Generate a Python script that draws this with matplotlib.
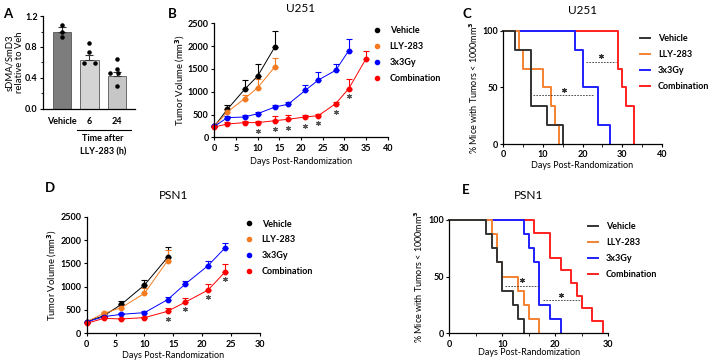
import matplotlib
matplotlib.use('Agg')
import matplotlib.pyplot as plt
from matplotlib.lines import Line2D
import numpy as np

plt.rcParams['font.family'] = ['Lato', 'DejaVu Sans']
plt.rcParams['font.weight'] = 'bold'
plt.rcParams['font.size'] = 6.5
plt.rcParams['axes.linewidth'] = 0.9
plt.rcParams['xtick.major.size'] = 2.5
plt.rcParams['ytick.major.size'] = 2.5
plt.rcParams['xtick.minor.size'] = 1.8
plt.rcParams['ytick.minor.size'] = 1.8
plt.rcParams['xtick.major.pad'] = 2
plt.rcParams['ytick.major.pad'] = 1.5

groups = ['Vehicle', 'LLY-283', '3x3Gy', 'Combination']
colors = ['black', '#f47a20', '#0000ff', '#ff0000']
km_colors = ['#333333', '#f58231', '#1f1fff', '#ff2020']

# ---- A: sDMA/SmD3 ----
a_labels = ['Vehicle', '6', '24']
a_means = [1.0, 0.637, 0.43]
a_sem = [0.054, 0.056, 0.05]
a_points = [[1.084, 0.998, 0.925],
            [0.856, 0.73, 0.59, 0.59],
            [0.645, 0.512, 0.468, 0.468, 0.297]]
a_colors = ['#7d7d7d', '#d4d4d4', '#c6c6c6']

# ---- B: U251 tumor volume ----
u_days = [[0, 3, 7, 10, 14],
          [0, 3, 7, 10, 14],
          [0, 3, 7, 10, 14, 17, 21, 24, 28, 31],
          [0, 3, 7, 10, 14, 17, 21, 24, 28, 31, 35]]
u_vol = [[240, 614, 1053, 1345, 1988],
         [240, 556, 848, 1089, 1550],
         [240, 431, 446, 519, 665, 724, 1031, 1257, 1469, 1901],
         [225, 292, 322, 322, 365, 395, 446, 475, 738, 1067, 1725]]
u_err = [[0, 95, 204, 256, 351],
         [0, 60, 80, 183, 182],
         [0, 45, 45, 37, 51, 51, 109, 168, 147, 248],
         [0, 51, 43, 43, 103, 95, 44, 29, 30, 205, 161]]
u_star_days = [10, 14, 17, 21, 24, 28, 31]
u_star_y = [140, 175, 212, 250, 307, 563, 906]

# ---- C: U251 survival ----
c_t = [[0, 3, 7, 11, 15],
       [0, 4, 5, 10, 12, 13, 14],
       [0, 18, 20, 24, 27],
       [0, 29, 30, 31, 33]]
c_s = [[100, 83.3, 33.3, 16.7, 0],
       [100, 83.3, 66.7, 50, 33.3, 16.7, 0],
       [100, 83.3, 50, 16.7, 0],
       [100, 66.7, 50, 33.3, 0]]
c_dash = [(7.5, 23, 43), (21, 28.5, 73)]

# ---- D: PSN1 tumor volume ----
p_days = [[0, 3, 6, 10, 14],
          [0, 3, 6, 10, 14],
          [0, 3, 6, 10, 14, 17, 21, 24],
          [0, 3, 6, 10, 14, 17, 21, 24]]
p_vol = [[250, 378, 621, 1035, 1628],
         [250, 428, 550, 857, 1557],
         [245, 357, 407, 443, 721, 1050, 1450, 1838],
         [214, 321, 307, 336, 471, 664, 926, 1321]]
p_err = [[0, 30, 72, 108, 214],
         [0, 30, 57, 107, 228],
         [0, 20, 20, 25, 50, 71, 90, 108],
         [0, 20, 20, 20, 65, 100, 129, 166]]
p_star_days = [14, 17, 21, 24]
p_star_y = [302, 517, 776, 1164]

# ---- E: PSN1 survival ----
e_t = [[0, 7, 8, 9, 10, 12, 13, 14],
       [0, 8, 9, 10, 13, 14, 15, 17],
       [0, 14, 15, 16, 17, 19, 21],
       [0, 16, 19, 21, 23, 24, 25, 27, 29]]
e_s = [[100, 87.5, 75, 62.5, 37.5, 25, 12.5, 0],
       [100, 87.5, 62.5, 50, 37.5, 25, 12.5, 0],
       [100, 87.5, 75, 62.5, 25, 12.5, 0],
       [100, 88.9, 66.7, 55.6, 44.4, 33.3, 22.2, 11.1, 0]]
e_dash = [(10.5, 17, 42), (17.6, 24.7, 29)]

fig = plt.figure(figsize=(7.09, 3.62), dpi=100)

ASTERISK = (6, 2, 0)


def clean(ax):
    ax.spines['top'].set_visible(False)
    ax.spines['right'].set_visible(False)


# panel A
axA = fig.add_axes([0.0611, 0.6989, 0.1293, 0.2569])
clean(axA)
xa = np.arange(len(a_labels))
axA.bar(xa, a_means, width=0.67, color=a_colors, edgecolor='#555555', linewidth=0.6,
        yerr=[np.zeros(3), a_sem], error_kw=dict(elinewidth=0.8, capsize=3, capthick=0.8, ecolor='#333333'))
offsets = [[0, 0, 0], [0, 0, -0.2, 0.2], [0, 0, -0.25, 0.05, 0]]
for i, pts in enumerate(a_points):
    axA.scatter(xa[i] + np.array(offsets[i]), pts, s=5, color='black', zorder=3)
axA.set_xlim(-0.67, 2.66)
axA.set_ylim(0, 1.2)
axA.set_yticks([0, 0.4, 0.8, 1.2])
axA.set_yticks([0.2, 0.6, 1.0], minor=True)
axA.set_yticklabels(['0.0', '0.4', '0.8', '1.2'])
axA.set_xticks(xa)
axA.set_xticklabels(a_labels)
axA.tick_params(axis='x', length=0, pad=6)
axA.set_ylabel('sDMA/SmD3\nrelative to Veh', fontsize=6.8, linespacing=1.05)
axA.yaxis.set_label_coords(-0.215, 0.5)
tr = axA.get_xaxis_transform()
axA.plot([0.55, 2.52], [-0.226, -0.226], color='black', lw=0.8, transform=tr, clip_on=False)
axA.text(1.5, -0.32, 'Time after', transform=tr, ha='center', va='center', fontsize=6.5)
axA.text(1.5, -0.46, 'LLY-283 (h)', transform=tr, ha='center', va='center', fontsize=6.5)


def growth_panel(ax, days, vols, errs, xmax, star_d, star_y, title, tpad, ylx, xly):
    clean(ax)
    for d, v, e, c in zip(days, vols, errs, colors):
        ax.errorbar(d, v, yerr=[np.zeros(len(e)), e], color=c, marker='o', ms=3.2, lw=0.7,
                    elinewidth=0.8, capsize=2, capthick=0.8, clip_on=False)
    ax.plot(star_d, star_y, ls='none', marker=ASTERISK, ms=3.5, mew=0.8, color='#555555')
    ax.set_xlim(0, xmax)
    ax.set_ylim(0, 2500)
    ax.set_xticks(np.arange(0, xmax + 1, 5))
    ax.set_yticks(np.arange(0, 2501, 500))
    ax.set_xlabel('Days Post-Randomization', fontsize=6.5)
    ax.set_ylabel('Tumor Volume (mm$^\\mathbf{3}$)', fontsize=6.8)
    ax.yaxis.set_label_coords(ylx, 0.5)
    ax.xaxis.set_label_coords(0.5, xly)
    ax.set_title(title, fontsize=8.5, pad=tpad)


def km_panel(ax, ts, ss, dash, xmax, title, tpad, ylx, xly):
    clean(ax)
    for t, s, c in list(zip(ts, ss, km_colors))[::-1]:
        ax.step(t, s, where='post', color=c, lw=1.4, clip_on=False)
    for x0, x1, y in dash:
        ax.plot([x0, x1], [y, y], ls=(0, (2, 1.5)), color='#333333', lw=0.6)
        ax.plot([(x0 + x1) / 2], [y + 5], ls='none', marker=ASTERISK, ms=3.5, mew=0.8, color='#333333')
    ax.set_xlim(0, xmax)
    ax.set_ylim(0, 100)
    ax.set_xticks(np.arange(0, xmax + 1, 10))
    ax.set_xticks(np.arange(5, xmax, 10), minor=True)
    ax.set_yticks([0, 50, 100])
    ax.set_xlabel('Days Post-Randomization', fontsize=6.5)
    ax.set_ylabel('% Mice with Tumors < 1000mm$^3$', fontsize=6.5, fontweight='normal')
    ax.yaxis.set_label_coords(ylx, 0.5)
    ax.xaxis.set_label_coords(0.5, xly)
    ax.set_title(title, fontsize=8.5, pad=tpad)


def dot_legend(ax, x, y):
    hs = [Line2D([], [], ls='none', marker='o', ms=3, color=c) for c in colors]
    ax.legend(hs, groups, loc='upper left', bbox_to_anchor=(x, y), bbox_transform=fig.transFigure,
              frameon=False, borderpad=0, borderaxespad=0, handlelength=1, handletextpad=0.9,
              labelspacing=0.75, fontsize=6.5)


def line_legend(ax, x, y):
    hs = [Line2D([], [], color=c, lw=1.4) for c in km_colors]
    ax.legend(hs, groups, loc='upper left', bbox_to_anchor=(x, y), bbox_transform=fig.transFigure,
              frameon=False, borderpad=0, borderaxespad=0, handlelength=1.1, handletextpad=0.9,
              labelspacing=0.75, fontsize=6.5)


axB = fig.add_axes([0.3023, 0.6207, 0.2446, 0.3149])
growth_panel(axB, u_days, u_vol, u_err, 40, u_star_days, u_star_y, 'U251', 8, -0.16, -0.175)
dot_legend(axB, 0.5254, 0.9268)

axC = fig.add_axes([0.7099, 0.6022, 0.2234, 0.3122])
km_panel(axC, c_t, c_s, c_dash, 40, 'U251', 12, -0.15, -0.146)
line_legend(axC, 0.9027, 0.9047)

axD = fig.add_axes([0.1223, 0.0793, 0.2444, 0.3221])
growth_panel(axD, p_days, p_vol, p_err, 30, p_star_days, p_star_y, 'PSN1', 13, -0.16, -0.156)
dot_legend(axD, 0.3449, 0.3936)

axE = fig.add_axes([0.6337, 0.0793, 0.2243, 0.313])
km_panel(axE, e_t, e_s, e_dash, 30, 'PSN1', 15, -0.15, -0.134)
line_legend(axE, 0.8293, 0.3854)

for lab, x, y in [('A', 8, 14), ('B', 172, 14), ('C', 467, 14), ('D', 50, 188), ('E', 466, 190)]:
    fig.text(x / 709, 1 - y / 362, lab, fontsize=9.5, fontweight='bold', ha='center', va='center')

fig.savefig('out.png', dpi=100)
